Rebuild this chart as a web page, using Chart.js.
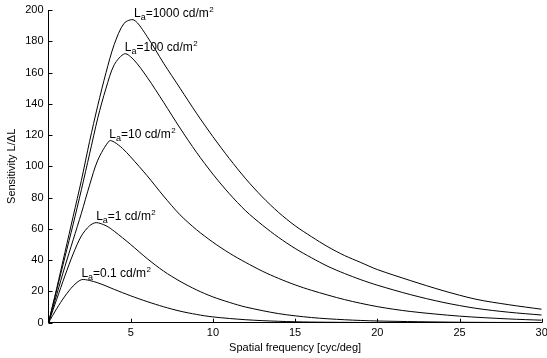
<!DOCTYPE html>
<html>
<head>
<meta charset="utf-8">
<script src="https://cdn.jsdelivr.net/npm/chart.js@4/dist/chart.umd.min.js"></script>
<style>
  html, body { margin: 0; padding: 0; background: #fff; }
  #wrap { width: 547px; height: 358px; position: relative; }
</style>
</head>
<body>
<div id="wrap"><canvas id="grafico"></canvas></div>
<script>
// luminance levels (cd/m^2), one curve each
const luminanze = ['1000', '100', '10', '1', '0.1'];

// spatial frequency [cyc/deg] and sensitivity L/dL
const freq1000 = [0, 0.5, 1, 1.5, 2, 2.5, 3, 3.5, 4, 4.6, 5.2, 6, 7, 8, 9, 10, 11, 12, 13, 14, 15, 16, 17, 18, 19, 20, 22, 24, 26, 28, 30];
const sens1000 = [0, 22, 45, 68, 91, 116, 139, 160, 178, 191.5, 193.6, 183, 166, 150, 134, 119, 105, 92, 80.5, 70.5, 62, 55, 48.5, 43, 38.5, 34, 27, 20.5, 15, 11.5, 8.6];

const freq100 = [0, 0.5, 1, 1.5, 2, 2.5, 3, 3.5, 4, 4.64, 5.2, 6, 7, 8, 9, 10, 11, 12, 13, 14, 15, 16, 17, 18, 19, 20, 22, 24, 26, 28, 30];
const sens100 = [0, 21, 42, 63, 85, 108, 131, 150, 165, 172, 168, 157, 141, 124.5, 109, 95, 82.5, 71.5, 62.5, 54.5, 47.5, 41.5, 36, 31.5, 27.5, 24, 18, 13, 9.2, 6.7, 4.9];

const freq10 = [0, 0.5, 1, 1.5, 2, 2.5, 3, 3.7, 4, 4.5, 5, 6, 7, 8, 9, 10, 11, 12, 13, 14, 15, 16, 18, 20, 22, 25, 28, 30];
const sens10 = [0, 18, 36, 53, 70, 88, 104, 116.3, 115.5, 111.5, 106, 94, 81, 69, 59.5, 51.5, 44.5, 38.5, 33, 28.3, 24.2, 20.7, 14.8, 10.3, 7.2, 4.2, 2.4, 1.6];

const freq1 = [0, 0.5, 1, 1.5, 2, 2.5, 2.9, 3.5, 4, 5, 6, 7, 8, 9, 10, 11, 12, 14, 16, 18, 20, 25, 30];
const sens1 = [0, 15, 30, 44, 55.5, 62, 64, 62, 58.5, 50, 41, 33, 26.5, 21, 16.5, 13, 10, 5.8, 3.3, 1.9, 1.1, 0.3, 0.1];

const freq01 = [0, 0.5, 1, 1.5, 2, 2.5, 3, 3.5, 4, 5, 6, 7, 8, 9, 10, 12, 14, 16, 20, 25, 30];
const sens01 = [0, 9, 17, 23.5, 27.5, 27, 25.5, 23.5, 21.3, 17.2, 13.5, 10.2, 7.4, 5.3, 3.7, 1.9, 0.9, 0.4, 0.1, 0, 0];

const xTicks = [0, 5, 10, 15, 20, 25, 30];
const yTicks = [0, 20, 40, 60, 80, 100, 120, 140, 160, 180, 200];

const curve = [
    [freq1000, sens1000],
    [freq100, sens100],
    [freq10, sens10],
    [freq1, sens1],
    [freq01, sens01]
];

const FONT = '"Liberation Sans", Arial, Helvetica, sans-serif';

// inward tick marks, like the original plot
const tacche = {
    id: 'tacche',
    afterDraw(chart) {
        const ctx = chart.ctx;
        const x = chart.scales.x, y = chart.scales.y;
        ctx.save();
        ctx.strokeStyle = '#000';
        ctx.lineWidth = 1;
        ctx.beginPath();
        xTicks.forEach(v => {
            const px = Math.round(x.getPixelForValue(v)) + 0.5;
            ctx.moveTo(px, y.bottom);
            ctx.lineTo(px, y.bottom - 4);
        });
        yTicks.forEach(v => {
            const py = Math.round(y.getPixelForValue(v)) + 0.5;
            ctx.moveTo(x.left, py);
            ctx.lineTo(x.left + 4, py);
        });
        ctx.stroke();
        ctx.restore();
    }
};

// "L_a=... cd/m^2" at the peak of each curve
const etichette = {
    id: 'etichette',
    afterDatasetsDraw(chart) {
        const ctx = chart.ctx;
        const x = chart.scales.x, y = chart.scales.y;
        ctx.save();
        ctx.fillStyle = '#000';
        ctx.textAlign = 'left';
        ctx.textBaseline = 'alphabetic';
        curve.forEach(([f, s], i) => {
            let k = 0;
            s.forEach((v, j) => { if (v > s[k]) k = j; });
            let px = x.getPixelForValue(f[k]);
            const py = y.getPixelForValue(s[k]) - 3;
            ctx.font = '12px ' + FONT;
            ctx.fillText('L', px, py);
            px += ctx.measureText('L').width;
            ctx.font = '9px ' + FONT;
            ctx.fillText('a', px, py + 3);
            px += ctx.measureText('a').width;
            ctx.font = '12px ' + FONT;
            const t = '=' + luminanze[i] + ' cd/m';
            ctx.fillText(t, px, py);
            px += ctx.measureText(t).width;
            ctx.font = '8px ' + FONT;
            ctx.fillText('2', px + 0.5, py - 5);
        });
        ctx.restore();
    }
};

const grafico = new Chart(document.getElementById('grafico'), {
    type: 'line',
    data: {
        datasets: curve.map(([f, s], i) => ({
            label: 'La=' + luminanze[i],
            data: f.map((v, j) => ({ x: v, y: s[j] })),
            borderColor: '#000',
            borderWidth: 1,
            pointRadius: 0,
            tension: 0.3,
            fill: false
        }))
    },
    options: {
        responsive: true,
        maintainAspectRatio: false,
        animation: false,
        layout: { padding: { top: 10, right: 5.3, left: 0, bottom: 0 } },
        plugins: { legend: { display: false }, tooltip: { enabled: false } },
        scales: {
            x: {
                type: 'linear',
                min: 0,
                max: 30,
                grid: { display: false, drawTicks: false },
                border: { display: true, color: '#000', width: 1 },
                ticks: {
                    stepSize: 5,
                    padding: 4,
                    color: '#000',
                    font: { family: FONT, size: 11 },
                    maxRotation: 0,
                    callback: v => v === 0 ? '' : v
                },
                title: {
                    display: true,
                    text: 'Spatial frequency [cyc/deg]',
                    color: '#000',
                    font: { family: FONT, size: 11 },
                    padding: { top: 0, bottom: 3 }
                },
                afterFit: s => { s.height = 35.3; s.paddingLeft = 0; s.paddingRight = 0; }
            },
            y: {
                min: 0,
                max: 200,
                grid: { display: false, drawTicks: false },
                border: { display: true, color: '#000', width: 1 },
                ticks: {
                    stepSize: 20,
                    padding: 5,
                    color: '#000',
                    font: { family: FONT, size: 11 }
                },
                title: {
                    display: true,
                    text: 'Sensitivity L/\u0394L',
                    color: '#000',
                    font: { family: FONT, size: 11 },
                    padding: { top: 5, bottom: 0 }
                },
                afterFit: s => { s.width = 48.5; s.paddingTop = 0; s.paddingBottom = 0; }
            }
        }
    },
    plugins: [tacche, etichette]
});
</script>
</body>
</html>
